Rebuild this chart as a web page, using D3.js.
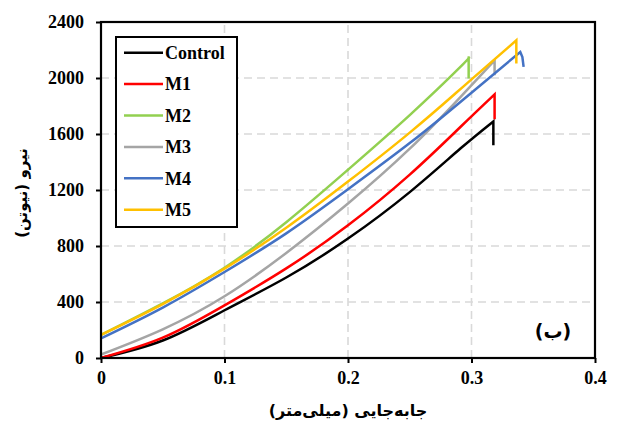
<!DOCTYPE html>
<html>
<head>
<meta charset="utf-8">
<script src="https://cdn.jsdelivr.net/npm/d3@7"></script>
<style>
  html, body { margin: 0; padding: 0; background: #fff; }
  svg { display: block; }
  .num { font-family: "Times New Roman", "Liberation Serif", serif; font-weight: bold; }
  .fa { font-family: "DejaVu Sans", "Noto Sans", sans-serif; font-weight: bold; }
</style>
</head>
<body>
<svg id="chart" width="619" height="423"></svg>
<script>
// Force–displacement curves (displacement in mm, force in N)
const seriesNames = ["Control", "M1", "M2", "M3", "M4", "M5"];
const seriesColors = ["#000000", "#FF0000", "#92D050", "#A5A5A5", "#4472C4", "#FFC000"];

const controlX = [0, 0.05, 0.1, 0.15, 0.2, 0.25, 0.291, 0.3177, 0.3177];
const controlY = [0, 125, 341, 575, 853, 1185, 1496, 1690, 1519];

const m1X = [0, 0.05, 0.1, 0.15, 0.2, 0.25, 0.291, 0.3187, 0.3187];
const m1Y = [0, 145, 376, 640, 948, 1310, 1650, 1883, 1705];

const m2X = [0, 0.05, 0.1, 0.15, 0.2, 0.25, 0.291, 0.2977, 0.2977];
const m2Y = [165, 390, 645, 970, 1345, 1735, 2079, 2146, 1996];

const m3X = [0, 0.05, 0.1, 0.15, 0.2, 0.25, 0.291, 0.3187, 0.3187];
const m3Y = [25, 205, 441, 750, 1103, 1495, 1864, 2126, 2019];

const m4X = [0, 0.05, 0.1, 0.15, 0.2, 0.25, 0.291, 0.3395, 0.3412, 0.3422];
const m4Y = [140, 360, 614, 890, 1205, 1535, 1829, 2186, 2150, 2079];

const m5X = [0, 0.05, 0.1, 0.15, 0.2, 0.25, 0.2869, 0.3, 0.3363, 0.3363];
const m5Y = [165, 385, 638, 930, 1260, 1610, 1889, 1990, 2269, 2103];

const seriesX = [controlX, m1X, m2X, m3X, m4X, m5X];
const seriesY = [controlY, m1Y, m2Y, m3Y, m4Y, m5Y];

const xTicks = [0, 0.1, 0.2, 0.3, 0.4];
const yTicks = [0, 400, 800, 1200, 1600, 2000, 2400];

const xTitle = "جابه‌جایی (میلی‌متر)";
const yTitle = "نیرو (نیوتن)";
const panelLabel = "(ب)";

const svg = d3.select("#chart");
const margin = { left: 101, top: 22, right: 24, bottom: 65 };
const W = 619, H = 423;
const pw = W - margin.left - margin.right;
const ph = H - margin.top - margin.bottom;

const x = d3.scaleLinear().domain([0, 0.4]).range([margin.left, margin.left + pw]);
const y = d3.scaleLinear().domain([0, 2400]).range([margin.top + ph, margin.top]);

// dashed grid
const grid = svg.append("g");
grid.selectAll("line.gx").data(xTicks.slice(1, -1)).join("line")
  .attr("x1", d => x(d)).attr("x2", d => x(d))
  .attr("y1", y(0)).attr("y2", y(2400))
  .attr("stroke", "#D9D9D9").attr("stroke-width", 1.6).attr("stroke-dasharray", "8,5");
grid.selectAll("line.gy").data(yTicks.slice(1, -1)).join("line")
  .attr("x1", x(0)).attr("x2", x(0.4))
  .attr("y1", d => y(d)).attr("y2", d => y(d))
  .attr("stroke", "#D9D9D9").attr("stroke-width", 1.6).attr("stroke-dasharray", "8,5");

// curves: smooth loading branch up to the peak force, straight segments after failure
const lineGen = d3.line().x(d => x(d[0])).y(d => y(d[1])).curve(d3.curveNatural);
const curves = svg.append("g");
seriesNames.forEach((name, i) => {
  const pts = seriesX[i].map((v, k) => [v, seriesY[i][k]]);
  const peak = d3.maxIndex(pts, p => p[1]);
  let dStr = lineGen(pts.slice(0, peak + 1));
  pts.slice(peak + 1).forEach(p => { dStr += "L" + x(p[0]) + "," + y(p[1]); });
  curves.append("path")
    .attr("d", dStr)
    .attr("fill", "none")
    .attr("stroke", seriesColors[i])
    .attr("stroke-width", 2.5)
    .attr("stroke-linejoin", "miter");
});

// axes
const xAxis = d3.axisBottom(x).tickValues(xTicks).tickSize(5).tickFormat(d => d === 0 ? "0" : d3.format(".1f")(d));
const yAxis = d3.axisLeft(y).tickValues(yTicks).tickSize(5).tickFormat(d3.format("d"));

const gx = svg.append("g").attr("transform", `translate(0,${y(0)})`).call(xAxis);
const gy = svg.append("g").attr("transform", `translate(${x(0)},0)`).call(yAxis);
[gx, gy].forEach(g => {
  g.select(".domain").remove();
  g.selectAll(".tick line").attr("stroke", "#000").attr("stroke-width", 2);
  g.selectAll(".tick text").attr("class", "num").attr("font-size", 18).attr("fill", "#000");
});
gx.selectAll(".tick text").attr("dy", "1.0em");
gy.selectAll(".tick text").attr("x", -17);

// plot frame
svg.append("rect")
  .attr("x", x(0)).attr("y", y(2400))
  .attr("width", x(0.4) - x(0)).attr("height", y(0) - y(2400))
  .attr("fill", "none").attr("stroke", "#000").attr("stroke-width", 2.2);

// legend
const lg = svg.append("g");
lg.append("rect")
  .attr("x", 116).attr("y", 37).attr("width", 121).attr("height", 190)
  .attr("fill", "#fff").attr("stroke", "#000").attr("stroke-width", 2);
seriesNames.forEach((name, i) => {
  const yy = 52.7 + i * 31.4;
  lg.append("line").attr("x1", 124).attr("x2", 163).attr("y1", yy).attr("y2", yy)
    .attr("stroke", seriesColors[i]).attr("stroke-width", 2.5);
  lg.append("text").attr("class", "num").attr("x", 165).attr("y", yy)
    .attr("dy", "0.35em").attr("font-size", 18).attr("fill", "#000").text(name);
});

// titles
svg.append("text").attr("class", "fa").attr("x", (x(0) + x(0.4)) / 2).attr("y", 411)
  .attr("text-anchor", "middle").attr("dominant-baseline", "middle")
  .attr("font-size", 16).attr("direction", "rtl").attr("fill", "#000").text(xTitle);
svg.append("text").attr("class", "fa")
  .attr("transform", "translate(22,193) rotate(-90)")
  .attr("text-anchor", "middle").attr("dominant-baseline", "middle")
  .attr("font-size", 15).attr("direction", "rtl").attr("fill", "#000").text(yTitle);
svg.append("text").attr("class", "fa").attr("x", 553).attr("y", 332)
  .attr("text-anchor", "middle").attr("dominant-baseline", "middle")
  .attr("font-size", 19).attr("direction", "rtl").attr("fill", "#000").text(panelLabel);
</script>
</body>
</html>
